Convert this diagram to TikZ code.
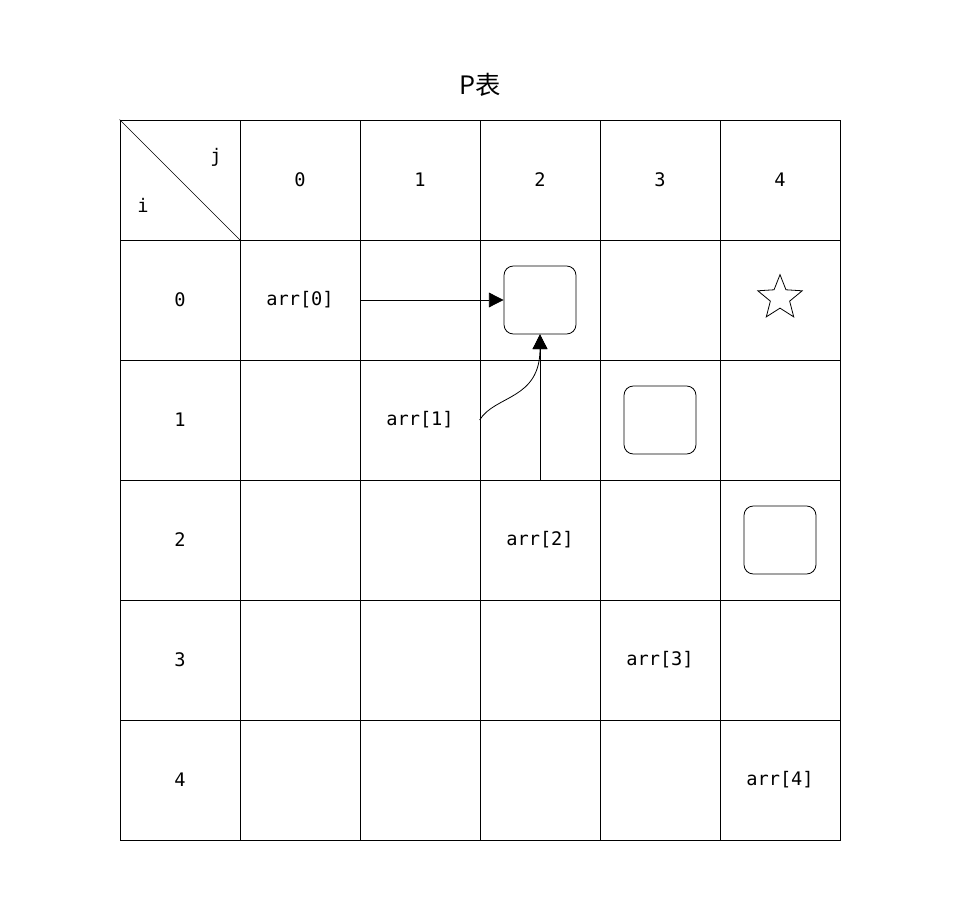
\documentclass[tikz,border=0pt]{standalone}
\usepackage{fontspec}
\setmonofont{DejaVu Sans Mono}
\newfontfamily\cjkfont{Noto Sans CJK SC}
\usetikzlibrary{arrows.meta,shapes.geometric}

\begin{document}
\begin{tikzpicture}[x=0.75pt,y=-0.75pt,
  cell/.style={draw, line width=0.6pt, minimum size=90pt, inner sep=0pt,
    font=\ttfamily\fontsize{14}{16}\selectfont},
  box/.style={draw, line width=0.6pt, rounded corners=7pt,
    minimum width=54pt, minimum height=51pt},
  link/.style={line width=0.6pt, -{Triangle[length=11pt,width=11pt]}}]
  \useasboundingbox (0,0) rectangle (960,912);

  % title
  \node[font=\cjkfont\fontsize{19}{22}\selectfont] (title) at (480,85) {P表};

  % table cells
  \foreach \r in {0,...,5}
    \foreach \c in {0,...,5}
      \node[cell] (c-\r-\c) at (180+120*\c,180+120*\r) {};

  % header
  \draw[line width=0.5pt] (c-0-0.north west) -- (c-0-0.south east);
  \node[font=\ttfamily\fontsize{14}{16}\selectfont] (lj) at (216,157) {j};
  \node[font=\ttfamily\fontsize{14}{16}\selectfont] (li) at (143,205) {i};
  \foreach \k in {0,...,4} {
    \pgfmathtruncatemacro{\n}{\k+1}
    \node[font=\ttfamily\fontsize{14}{16}\selectfont] at (c-0-\n) {\k};
    \node[font=\ttfamily\fontsize{14}{16}\selectfont] at (c-\n-0) {\k};
    \node[font=\ttfamily\fontsize{14}{16}\selectfont] at (c-\n-\n) {arr[\k]};
  }

  % marked cells
  \node[box] (b02) at (c-1-3) {};
  \node[box] (b13) at (c-2-4) {};
  \node[box] (b24) at (c-3-5) {};
  \node[draw, star, star points=5, star point ratio=2.3, minimum size=35pt,
    inner sep=0pt, line width=0.6pt] (goal) at (780,298) {};

  % links
  \draw[link] (c-1-1.east) -- (b02.west);
  \draw[link] (c-2-3.west) .. controls (495,395) and (540,400) .. (b02.south);
  \draw[link] (c-3-3.north) -- (b02.south);
\end{tikzpicture}
\end{document}
